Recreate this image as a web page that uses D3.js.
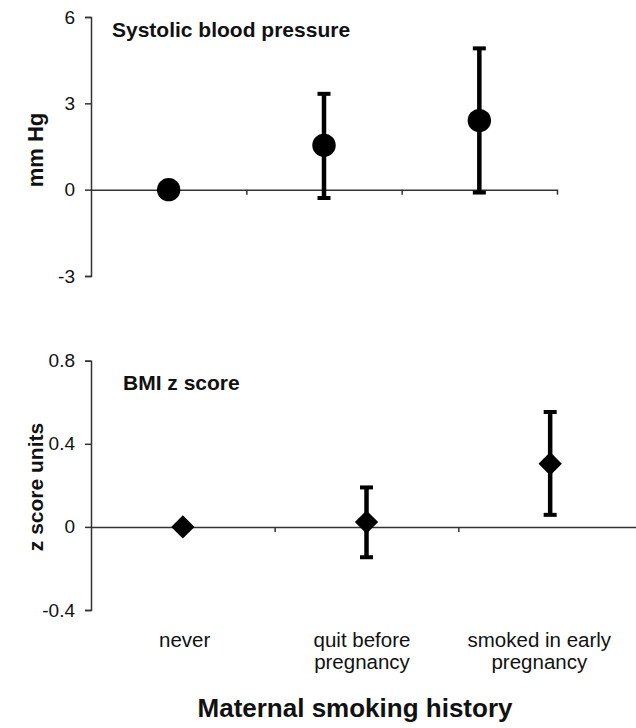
<!DOCTYPE html>
<html>
<head>
<meta charset="utf-8">
<script src="https://cdn.jsdelivr.net/npm/d3@7"></script>
<style>
  html, body { margin: 0; padding: 0; background: #fff; }
  svg { display: block; font-family: "Liberation Sans", Arial, Helvetica, sans-serif; }
</style>
</head>
<body>
<svg id="chart" width="636" height="728"></svg>
<script>
// ---- data ----
const categories = ["never", "quit before pregnancy", "smoked in early pregnancy"];
const categoryLines = [["never"], ["quit before", "pregnancy"], ["smoked in early", "pregnancy"]];

const sbpEstimate = [0, 1.54, 2.40];
const sbpLower    = [null, -0.29, -0.10];
const sbpUpper    = [null, 3.33, 4.91];
const sbpTicks    = [-3, 0, 3, 6];
const sbpTickLabels = ["-3", "0", "3", "6"];

const bmiEstimate = [0, 0.023, 0.304];
const bmiLower    = [null, -0.146, 0.058];
const bmiUpper    = [null, 0.19, 0.553];
const bmiTicks    = [-0.4, 0, 0.4, 0.8];
const bmiTickLabels = ["-0.4", "0", "0.4", "0.8"];

const svg = d3.select("#chart");
const axisColor = "#333";

function panel(opts) {
  const g = svg.append("g");
  const y = d3.scaleLinear().domain(opts.yDomain).range(opts.yRange);
  const xi = d3.scaleLinear().domain([0, categories.length]).range(opts.xRange);

  // y axis
  const yAxis = d3.axisLeft(y).tickValues(opts.ticks).tickSize(6).tickPadding(10)
    .tickFormat((d, i) => opts.tickLabels[i]);
  const ya = g.append("g").attr("transform", `translate(${opts.xRange[0]},0)`).call(yAxis);
  ya.select(".domain").attr("stroke", axisColor).attr("stroke-width", 1.5);
  ya.selectAll(".tick line").attr("stroke", axisColor).attr("stroke-width", 1.5);
  ya.selectAll(".tick text").attr("font-size", 19).attr("fill", "#111")
    .attr("font-family", "'Liberation Sans', Arial, sans-serif");

  // x axis at zero
  const xAxis = d3.axisBottom(xi).tickValues(d3.range(1, categories.length + 1))
    .tickSize(5).tickSizeOuter(0).tickFormat("");
  const xa = g.append("g").attr("transform", `translate(0,${y(0)})`).call(xAxis);
  xa.select(".domain").attr("stroke", axisColor).attr("stroke-width", 1.5);
  xa.selectAll(".tick line").attr("stroke", axisColor).attr("stroke-width", 1.5);

  // error bars
  const idx = d3.range(categories.length).filter(i => opts.lower[i] != null);
  g.selectAll(".eb").data(idx).join("line")
    .attr("x1", i => xi(i + 0.5)).attr("x2", i => xi(i + 0.5))
    .attr("y1", i => y(opts.lower[i])).attr("y2", i => y(opts.upper[i]))
    .attr("stroke", "#000").attr("stroke-width", 4.5);
  [opts.lower, opts.upper].forEach(arr => {
    g.selectAll(null).data(idx).join("line")
      .attr("x1", i => xi(i + 0.5) - 6.5).attr("x2", i => xi(i + 0.5) + 6.5)
      .attr("y1", i => y(arr[i])).attr("y2", i => y(arr[i]))
      .attr("stroke", "#000").attr("stroke-width", 4);
  });

  // markers
  const sym = d3.symbol().type(opts.symbol).size(opts.symbolSize);
  g.selectAll(".pt").data(opts.est).join("path")
    .attr("d", sym)
    .attr("transform", (d, i) => `translate(${xi(i + 0.5)},${y(d)})` + (opts.rotate ? " rotate(45)" : ""))
    .attr("fill", "#000");

  // title
  g.append("text").attr("x", opts.titleX).attr("y", opts.titleY)
    .attr("font-size", 21).attr("font-weight", "bold").attr("fill", "#111")
    .text(opts.title);

  // y label
  g.append("text").attr("transform", `translate(43,${opts.labelY}) rotate(-90)`)
    .attr("text-anchor", "middle").attr("font-size", opts.labelSize).attr("font-weight", "bold")
    .attr("fill", "#111").text(opts.yLabel);
  return xi;
}

panel({
  yDomain: [-3, 6], yRange: [276, 17], xRange: [91, 557], ticks: sbpTicks, tickLabels: sbpTickLabels,
  est: sbpEstimate, lower: sbpLower, upper: sbpUpper,
  symbol: d3.symbolCircle, symbolSize: Math.PI * 11.7 * 11.7, rotate: false,
  title: "Systolic blood pressure", titleX: 112, titleY: 37,
  yLabel: "mm Hg", labelY: 150, labelSize: 22
});

panel({
  yDomain: [-0.4, 0.8], yRange: [610, 360.7], xRange: [91, 642], ticks: bmiTicks, tickLabels: bmiTickLabels,
  est: bmiEstimate, lower: bmiLower, upper: bmiUpper,
  symbol: d3.symbolSquare, symbolSize: 16.5 * 16.5, rotate: true,
  title: "BMI z score", titleX: 123, titleY: 390,
  yLabel: "z score units", labelY: 487, labelSize: 21
});

// category labels
const labelScale = d3.scaleLinear().domain([0, categories.length]).range([96, 628]);
const lab = svg.append("g");
categoryLines.forEach((lines, i) => {
  lines.forEach((ln, k) => {
    lab.append("text").attr("text-anchor", "middle").attr("font-size", 20.5).attr("fill", "#111")
      .attr("x", labelScale(i + 0.5)).attr("y", 647 + k * 22).text(ln);
  });
});

// x axis title
svg.append("text").attr("x", 355).attr("y", 717).attr("text-anchor", "middle")
  .attr("font-size", 26).attr("font-weight", "bold").attr("fill", "#111")
  .text("Maternal smoking history");
</script>
</body>
</html>
